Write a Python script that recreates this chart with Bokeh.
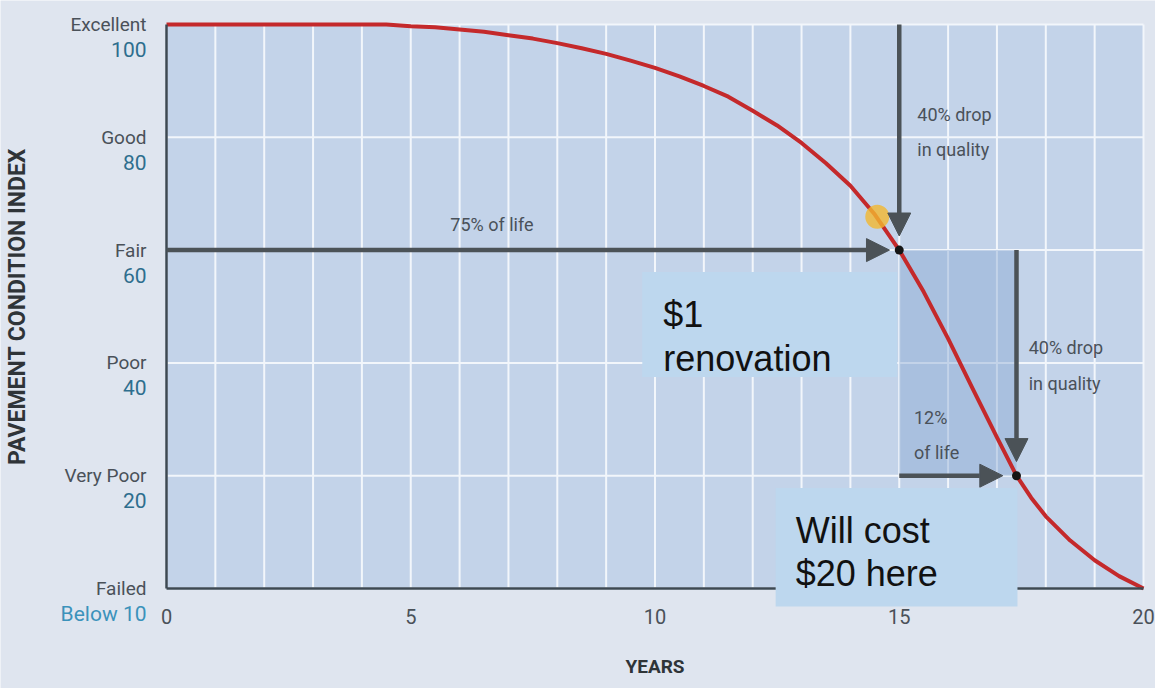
from bokeh.plotting import figure
from bokeh.models import Range1d, FixedTicker, Arrow, NormalHead, BoxAnnotation, Label, ColumnDataSource
from bokeh.core.properties import value
from bokeh.embed import file_html
from bokeh.resources import INLINE

# ---- data ----
years = [0, 1, 2, 3, 4, 4.5, 5, 5.5, 6, 6.5, 7, 7.5, 8, 8.5, 9, 9.5, 10, 10.5, 11, 11.5, 12, 12.5,
         13, 13.5, 14, 14.5, 15, 15.5, 16, 16.5, 17, 17.4, 17.7, 18, 18.5, 19, 19.5, 20]
pci = [100, 100, 100, 100, 100, 100, 99.7, 99.5, 99.1, 98.7, 98.1, 97.5, 96.7, 95.8, 94.8, 93.6, 92.3, 90.8,
       89.1, 87.2, 84.7, 82.1, 79.0, 75.4, 71.4, 66.3, 60.0, 52.6, 44.3, 35.5, 26.8, 20.0, 16.1, 12.8,
       8.5, 5.0, 2.2, 0]
x_ticks = [0, 5, 10, 15, 20]
grid_years = list(range(0, 21))
y_ticks = [0, 20, 40, 60, 80, 100]
y_conditions = ["Failed", "Very Poor", "Poor", "Fair", "Good", "Excellent"]
y_numbers = ["Below 10", "20", "40", "60", "80", "100"]

renov_year, renov_pci = 15, 60          # $1 renovation point
costly_year, costly_pci = 17.4, 20      # $20 point
warn_year, warn_pci = 14.55, 65.9       # highlighted spot

ann_text = ["75% of life", "40% drop", "in quality", "40% drop", "in quality", "12%", "of life"]
ann_x = [5.81, 15.37, 15.37, 17.65, 17.65, 15.3, 15.3]
ann_y = [64.6, 84.0, 77.8, 42.8, 36.4, 30.4, 24.2]

# ---- layout: plotting area spans 166..1143 px horizontally, 24..588 px vertically ----
W, H = 1155, 688
LEFT, RIGHT, TOP, BOTTOM = 166, 1143, 24, 588
X0, X1, Y0, Y1 = 0, 20, 0, 100
sx = (RIGHT - LEFT) / (X1 - X0)
sy = (BOTTOM - TOP) / (Y1 - Y0)
x_range = Range1d(X0 - LEFT / sx, X1 + (W - RIGHT) / sx)
y_range = Range1d(Y0 - (H - BOTTOM) / sy, Y1 + TOP / sy)

FONT = "Roboto"
GRAY = "#4a5159"
ARROW = "#4b5257"
PAGE = "#dfe5ef"

p = figure(width=W, height=H, x_range=x_range, y_range=y_range,
           output_backend="svg", toolbar_location=None, min_border=0,
           background_fill_color=PAGE, border_fill_color=PAGE, outline_line_color=None)
p.grid.visible = False

# plot area and grid
p.add_layout(BoxAnnotation(left=X0, right=X1, bottom=Y0, top=Y1, fill_color="#c3d3e9",
                           fill_alpha=1, line_color=None, level="underlay"))
p.segment(x0=grid_years, y0=[Y0] * len(grid_years), x1=grid_years, y1=[Y1] * len(grid_years),
          line_color="#f2f6fb", line_width=2)
p.segment(x0=[X0] * len(y_ticks), y0=y_ticks, x1=[X1] * len(y_ticks), y1=y_ticks,
          line_color="#f2f6fb", line_width=2)

# axes
xa = p.xaxis[0]
xa.fixed_location = Y0
xa.bounds = (X0, X1)
xa.ticker = FixedTicker(ticks=x_ticks)
xa.axis_line_color = "#3d4852"
xa.axis_line_width = 2.5
xa.major_tick_in = 0
xa.major_tick_out = 0
xa.minor_tick_in = 0
xa.minor_tick_out = 0
xa.major_label_text_font = FONT
xa.major_label_text_font_size = "20px"
xa.major_label_text_color = GRAY
xa.major_label_standoff = 20
xa.axis_label = "YEARS"
xa.axis_label_text_font = FONT
xa.axis_label_text_font_style = "bold"
xa.axis_label_text_font_size = "19px"
xa.axis_label_text_color = "#2f3438"
xa.axis_label_standoff = 28

ya = p.yaxis[0]
ya.fixed_location = X0
ya.bounds = (Y0, Y1)
ya.ticker = FixedTicker(ticks=y_ticks)
ya.major_label_overrides = {t: c for t, c in zip(y_ticks, y_conditions)}
ya.axis_line_color = "#3d4852"
ya.axis_line_width = 2.5
ya.major_tick_in = 0
ya.major_tick_out = 0
ya.minor_tick_in = 0
ya.minor_tick_out = 0
ya.major_label_text_font = FONT
ya.major_label_text_font_size = "19px"
ya.major_label_text_color = GRAY
ya.major_label_standoff = 20
ya.axis_label = "PAVEMENT CONDITION INDEX"
ya.axis_label_text_font = FONT
ya.axis_label_text_font_style = "bold"
ya.axis_label_text_font_size = "23px"
ya.axis_label_text_color = "#2f3438"
ya.axis_label_standoff = 30

# numbers under the condition names
for t, n in zip(y_ticks, y_numbers):
    p.add_layout(Label(x=X0, y=t, x_offset=-20, y_offset=-25, text=n,
                       text_align="right", text_baseline="middle",
                       text_font=FONT, text_font_size="21px",
                       text_color="#3b92bb" if n.startswith("Below") else "#2e6e8e"))

# shaded zone between the two points
p.quad(left=[renov_year], right=[costly_year], bottom=[costly_pci], top=[renov_pci],
       fill_color="#8aa8d2", fill_alpha=0.45, line_color=None)

# curve
p.line(years, pci, line_color="#c4292b", line_width=4, line_join="round")

# highlighted spot and points
p.scatter([warn_year], [warn_pci], size=24, fill_color="#f2b830", fill_alpha=0.8, line_color=None)
p.scatter([renov_year, costly_year], [renov_pci, costly_pci], size=9, fill_color="#151515", line_color=None)

# annotation texts
src = ColumnDataSource(dict(x=ann_x, y=ann_y, text=ann_text))
p.text(x="x", y="y", text="text", source=src, text_font=value(FONT), text_font_size="18px",
       text_color=GRAY, text_baseline="middle", text_align="left")

# arrows
def head():
    return NormalHead(size=23, fill_color=ARROW, line_color=ARROW)

p.add_layout(Arrow(end=head(), x_start=X0, y_start=renov_pci, x_end=14.8, y_end=renov_pci,
                   line_color=ARROW, line_width=4.5))
p.add_layout(Arrow(end=head(), x_start=renov_year, y_start=Y1, x_end=renov_year, y_end=62.5,
                   line_color=ARROW, line_width=4.5))
p.add_layout(Arrow(end=head(), x_start=costly_year, y_start=renov_pci, x_end=costly_year, y_end=22.5,
                   line_color=ARROW, line_width=4.5))
p.add_layout(Arrow(end=head(), x_start=renov_year, y_start=costly_pci, x_end=17.12, y_end=costly_pci,
                   line_color=ARROW, line_width=4.5))

# callout boxes
p.add_layout(BoxAnnotation(left=9.74, right=14.96, top=56.1, bottom=37.5,
                           fill_color="#bdd7ee", fill_alpha=1, line_color=None))
p.add_layout(BoxAnnotation(left=12.47, right=17.42, top=17.8, bottom=-3.2,
                           fill_color="#bdd7ee", fill_alpha=1, line_color=None))
for txt, x, y in [("$1", 10.17, 48.5), ("renovation", 10.17, 40.7),
                  ("Will cost", 12.88, 10.3), ("$20 here", 12.88, 2.66)]:
    p.add_layout(Label(x=x, y=y, text=txt, text_font="Liberation Sans", text_font_size="36px",
                       text_color="#111111", text_baseline="alphabetic", text_align="left"))

open("out.html", "w").write(file_html(p, INLINE))
